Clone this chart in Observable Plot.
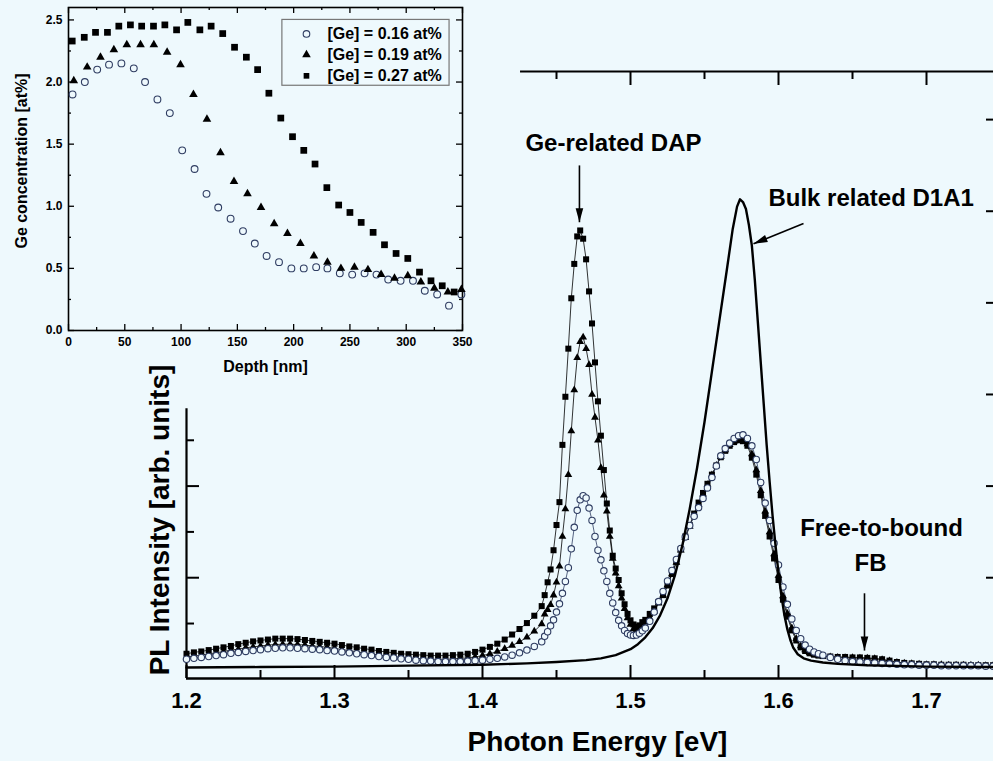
<!DOCTYPE html>
<html><head><meta charset="utf-8">
<script src="https://cdn.jsdelivr.net/npm/d3@7"></script>
<script src="https://cdn.jsdelivr.net/npm/@observablehq/plot@0.6"></script>
<style>
html,body{margin:0;padding:0;background:#eef9fd;overflow:hidden;}
#wrap{position:relative;width:993px;height:761px;overflow:hidden;background:#eef9fd;}
#main{position:absolute;left:0;top:0;width:1001px;}
#inset{position:absolute;left:0;top:0;width:520px;}
svg{max-width:none !important;}
</style></head><body><div id="wrap"><div id="inset"></div><div id="main"></div></div>
<script>
// ---------------- main spectrum data (photon energy in eV, PL intensity in arb. units) ----------------
const energy = [
1.200,1.205,1.210,1.215,1.220,1.225,1.230,1.235,1.240,1.245,
1.250,1.255,1.260,1.265,1.270,1.275,1.280,1.285,1.290,1.295,
1.300,1.305,1.310,1.315,1.320,1.325,1.330,1.335,1.340,1.345,
1.350,1.355,1.360,1.365,1.370,1.375,1.380,1.385,1.390,1.395,
1.400,1.405,1.410,1.415,1.420,1.425,1.430,1.435,1.440,
1.442,1.444,1.446,1.448,1.450,1.452,1.454,1.456,1.458,1.460,
1.462,1.464,1.466,1.468,1.470,1.472,1.474,1.476,1.478,1.480,
1.482,1.484,1.486,1.488,1.490,1.492,1.494,1.496,1.498,1.500,
1.502,1.504,1.506,1.508,1.510,
1.513,1.516,1.519,1.522,1.525,1.528,1.531,1.534,1.537,1.540,
1.543,1.546,1.549,1.552,1.555,1.558,1.561,1.564,1.567,1.570,
1.573,1.576,1.579,1.582,1.585,1.588,1.591,1.594,1.597,1.600,
1.603,1.606,1.609,1.612,1.615,1.618,1.621,1.624,1.627,1.630,
1.635,1.640,1.645,1.650,1.655,1.660,1.665,1.670,1.675,1.680,
1.685,1.690,1.695,1.700,1.705,1.710,1.715,1.720,1.725,1.730,
1.735,1.740,1.745];

// [Ge] = 0.27 at% (squares)
const pl027 = [
0.34,0.37,0.39,0.42,0.45,0.48,0.51,0.55,0.58,0.61,
0.63,0.65,0.67,0.67,0.67,0.66,0.64,0.62,0.60,0.58,
0.56,0.53,0.50,0.48,0.45,0.43,0.40,0.38,0.36,0.34,
0.33,0.32,0.31,0.30,0.30,0.30,0.31,0.32,0.34,0.38,
0.43,0.49,0.56,0.65,0.76,0.88,1.01,1.17,1.38,
1.62,1.90,2.18,2.60,3.15,3.65,4.90,5.95,7.00,8.10,
8.85,9.45,9.58,9.40,8.95,8.25,7.55,6.70,5.85,5.10,
4.35,3.62,3.03,2.48,2.20,1.95,1.66,1.42,1.21,1.07,
0.98,0.93,0.96,1.03,1.08,
1.21,1.33,1.47,1.62,1.83,2.08,2.35,2.62,2.90,3.15,
3.40,3.64,3.85,4.05,4.25,4.45,4.63,4.77,4.88,4.96,
5.00,4.98,4.88,4.62,4.25,3.80,3.35,2.90,2.42,1.95,
1.52,1.15,0.85,0.63,0.48,0.40,0.35,0.32,0.30,0.29,
0.28,0.27,0.27,0.26,0.26,0.25,0.24,0.22,0.19,0.16,
0.14,0.13,0.12,0.11,0.11,0.10,0.10,0.10,0.10,0.09,
0.09,0.09,0.09];

// [Ge] = 0.19 at% (triangles)
const pl019 = [
0.27,0.29,0.31,0.34,0.36,0.39,0.42,0.44,0.47,0.49,
0.51,0.53,0.54,0.55,0.55,0.54,0.53,0.51,0.50,0.48,
0.46,0.43,0.41,0.38,0.36,0.34,0.31,0.29,0.28,0.26,
0.25,0.24,0.23,0.22,0.22,0.22,0.23,0.24,0.25,0.27,
0.30,0.34,0.39,0.45,0.52,0.60,0.70,0.83,0.99,
1.20,1.30,1.41,1.62,1.90,2.25,2.90,3.50,4.25,5.20,
6.10,6.80,7.15,7.25,7.00,6.65,6.00,5.50,5.00,4.40,
3.80,3.45,2.90,2.42,2.10,1.82,1.55,1.32,1.12,0.98,
0.88,0.85,0.88,0.95,1.03,
1.12,1.27,1.44,1.62,1.84,2.08,2.33,2.60,2.87,3.12,
3.37,3.60,3.82,4.03,4.24,4.45,4.64,4.79,4.90,4.98,
5.03,5.01,4.92,4.70,4.35,3.90,3.45,3.00,2.52,2.05,
1.60,1.22,0.90,0.67,0.51,0.42,0.36,0.33,0.31,0.29,
0.27,0.26,0.25,0.25,0.24,0.24,0.23,0.21,0.18,0.15,
0.13,0.12,0.11,0.10,0.10,0.10,0.09,0.09,0.09,0.09,
0.09,0.08,0.08];

// [Ge] = 0.16 at% (open circles)
const pl016 = [
0.22,0.24,0.26,0.28,0.30,0.32,0.35,0.37,0.39,0.41,
0.43,0.45,0.46,0.47,0.47,0.46,0.45,0.44,0.43,0.41,
0.40,0.38,0.36,0.34,0.32,0.30,0.28,0.26,0.25,0.23,
0.22,0.20,0.19,0.18,0.17,0.17,0.17,0.17,0.18,0.19,
0.20,0.22,0.24,0.27,0.31,0.36,0.42,0.50,0.60,
0.72,0.82,0.95,1.08,1.25,1.43,1.66,1.92,2.22,2.63,
3.10,3.47,3.70,3.79,3.74,3.52,3.25,2.90,2.60,2.39,
2.15,1.92,1.66,1.45,1.24,1.07,0.95,0.85,0.78,0.75,
0.74,0.75,0.79,0.84,0.90,
1.05,1.25,1.48,1.70,1.93,2.16,2.40,2.64,2.89,3.14,
3.34,3.53,3.73,3.96,4.19,4.44,4.66,4.82,4.94,5.04,
5.10,5.12,5.04,4.88,4.58,4.08,3.63,3.25,2.75,2.28,
1.80,1.42,1.10,0.85,0.67,0.53,0.44,0.38,0.34,0.31,
0.26,0.22,0.19,0.17,0.16,0.15,0.14,0.13,0.12,0.11,
0.10,0.10,0.09,0.09,0.09,0.08,0.08,0.08,0.08,0.08,
0.08,0.07,0.07];

// bulk reference spectrum (solid line)
const bulkEnergy = [1.200,1.250,1.300,1.350,1.400,1.430,1.450,1.470,1.480,1.490,
1.500,1.505,1.510,1.515,1.520,1.525,1.530,1.535,1.540,1.545,
1.550,1.555,1.560,1.565,1.569,1.572,1.574,1.576,1.578,1.580,
1.582,1.584,1.586,1.588,1.590,1.592,1.594,1.596,1.598,1.600,
1.602,1.604,1.606,1.608,1.610,1.613,1.617,1.622,1.630,1.640,
1.660,1.700,1.750];
const bulkPL = [0.04,0.05,0.06,0.08,0.10,0.13,0.16,0.20,0.24,0.31,
0.44,0.55,0.70,0.90,1.18,1.55,2.05,2.70,3.50,4.40,
5.40,6.50,7.60,8.70,9.60,10.10,10.26,10.20,10.05,9.70,
9.25,8.50,7.60,6.70,5.80,4.90,4.10,3.35,2.70,2.10,
1.60,1.18,0.87,0.64,0.47,0.33,0.24,0.19,0.15,0.12,
0.09,0.06,0.05];

// main axes ticks (only the parts not covered by the inset are drawn)
const xMajor = [1.2,1.3,1.4,1.5,1.6,1.7];
const xMinor = [1.25,1.35,1.45,1.55,1.65];
const xTopMajor = [1.5,1.6,1.7];
const xTopMinor = [1.45,1.55,1.65];
const yLeftMajor = [2,4];
const yLeftMinor = [1,3,5];
const yRightMajor = [2,4,6,8,10,12];
const yRightMinor = [1,3,5,7,9,11];
const leftAxisTop = 5.69;   // where the inset box hides the left axis
const topAxisStart = 1.4257; // where the inset box hides the top axis

// annotations
const noteText = ["Ge-related DAP","Free-to-bound","FB"];
const noteE = [1.4885,1.6696,1.6622];
const notePL = [11.48,3.07,2.31];
const noteText2 = ["Bulk related D1A1"];
const noteE2 = [1.5932];
const notePL2 = [10.28];
const arrowFromE = [1.4655,1.6169,1.6581];
const arrowFromPL = [11.0,9.73,1.66];
const arrowToE = [1.4655,1.5831,1.6581];
const arrowToPL = [9.76,9.29,0.41];
const arrowRotate = [0,68,0];

// ---------------- inset data (depth profile) ----------------
const depth016 = [3.6,14.5,25.5,36,47,58,68,79,90,101,112,122.6,133,144,155,165.5,176,187,198,209,220,230,241,252,263,273.6,284,295,306,316.5,327.5,338,349];
const ge016 = [1.90,2.00,2.10,2.14,2.15,2.11,2.00,1.86,1.75,1.45,1.30,1.10,0.99,0.90,0.80,0.70,0.60,0.55,0.50,0.50,0.51,0.50,0.46,0.45,0.46,0.45,0.41,0.40,0.40,0.32,0.29,0.20,0.29];
const depth019 = [4.7,16.6,28.4,40.3,51.8,64,75.8,87.6,99.5,111,123,135,147,159,171,182.7,194.5,206,218,230,242,254,266,277.7,289.6,301.4,313,325,337,349];
const ge019 = [2.01,2.12,2.20,2.26,2.30,2.30,2.30,2.24,2.14,1.90,1.70,1.43,1.20,1.10,0.99,0.86,0.78,0.70,0.60,0.55,0.50,0.51,0.49,0.45,0.42,0.44,0.39,0.34,0.31,0.33];
const depth027 = [3.3,14,24,34.6,44.7,55,65,75.5,85.6,96,106,116.7,126.7,137,147.5,158,168,178,188.6,199,209,219,229.5,240,250,260,270.6,280.7,291,301.4,311.8,322,332,342.6];
const ge027 = [2.33,2.36,2.40,2.40,2.45,2.46,2.45,2.45,2.46,2.42,2.48,2.42,2.45,2.39,2.28,2.20,2.10,1.91,1.71,1.56,1.45,1.34,1.15,1.01,0.95,0.87,0.79,0.69,0.62,0.58,0.47,0.40,0.36,0.31];
const legendLabels = ["[Ge] = 0.16 at%","[Ge] = 0.19 at%","[Ge] = 0.27 at%"];
const insetXMajor = [0,50,100,150,200,250,300,350];
const insetXMinor = [25,75,125,175,225,275,325];
const insetYMajor = [0,0.5,1.0,1.5,2.0,2.5];
const insetYMinor = [0.25,0.75,1.25,1.75,2.25];

// ---------------- build ----------------
const BG = "#eef9fd";
const FONT = "'Liberation Sans', Arial, Helvetica, sans-serif";
const CIRC = "#2f3d62";

const rows = energy.map((e,i)=>({e, c:pl016[i], t:pl019[i], s:pl027[i]}));
const bulk = bulkEnergy.map((e,i)=>({e, v:bulkPL[i]}));
const notes = noteText.map((t,i)=>({t, e:noteE[i], v:notePL[i]}));
const notes2 = noteText2.map((t,i)=>({t, e:noteE2[i], v:notePL2[i]}));
const arrows = arrowFromE.map((e,i)=>({x1:e, y1:arrowFromPL[i], x2:arrowToE[i], y2:arrowToPL[i], r:arrowRotate[i]}));

const arrowHead = {draw(ctx){ ctx.moveTo(0,0); ctx.lineTo(-3.8,-14); ctx.lineTo(3.8,-14); ctx.closePath(); }};

const W=1001, H=761, mL=186, mR=1, mT=71, mB=83;
const iw = W-mL-mR, ih = H-mT-mB;
const X0 = 1.2, X1 = 1.75, Y0 = -0.2, Y1 = 13.05;

const main = Plot.plot({
  width: W, height: H, marginLeft: mL, marginRight: mR, marginTop: mT, marginBottom: mB,
  style: {background: "transparent", fontFamily: FONT, color: "#000", maxWidth: "none", overflow: "visible"},
  x: {domain: [X0, X1]},
  y: {domain: [Y0, Y1], axis: null},
  marks: [
    Plot.ruleX([X0], {y1: Y0, y2: leftAxisTop, stroke: "#000", strokeWidth: 2.2}),
    Plot.ruleY([Y0], {stroke: "#000", strokeWidth: 2.6}),
    Plot.ruleY([Y1], {x1: topAxisStart, x2: X1, stroke: "#000", strokeWidth: 2.2}),
    Plot.tickX(xMajor, {x: d=>d, insetTop: ih-13, strokeWidth: 2}),
    Plot.tickX(xMinor, {x: d=>d, insetTop: ih-8, strokeWidth: 2}),
    Plot.tickX(xTopMajor, {x: d=>d, insetBottom: ih-14, strokeWidth: 2}),
    Plot.tickX(xTopMinor, {x: d=>d, insetBottom: ih-8, strokeWidth: 2}),
    Plot.tickY(yLeftMajor, {y: d=>d, insetRight: iw-13, strokeWidth: 2}),
    Plot.tickY(yLeftMinor, {y: d=>d, insetRight: iw-8, strokeWidth: 2}),
    Plot.tickY(yRightMajor, {y: d=>d, insetLeft: iw-14, strokeWidth: 2}),
    Plot.tickY(yRightMinor, {y: d=>d, insetLeft: iw-7, strokeWidth: 2}),
    Plot.axisX(xMajor, {anchor: "bottom", tickSize: 0, tickPadding: 14, fontSize: 22, fontWeight: "bold", tickFormat: d3.format(".1f"), label: null}),
    Plot.text(["Photon Energy [eV]"], {frameAnchor: "bottom", dx: 4, dy: 64, fontSize: 28, fontWeight: "bold", textAnchor: "middle", lineAnchor: "middle"}),
    Plot.text(["PL Intensity [arb. units]"], {frameAnchor: "left", dx: -26, dy: 145, rotate: -90, fontSize: 28, fontWeight: "bold", textAnchor: "middle", lineAnchor: "middle"}),
    // spectra
    Plot.line(rows, {x: "e", y: "s", stroke: "#000", strokeWidth: 0.8}),
    Plot.line(rows, {x: "e", y: "t", stroke: "#000", strokeWidth: 0.8}),
    Plot.line(rows, {x: "e", y: "c", stroke: CIRC, strokeWidth: 0.8}),
    Plot.dot(rows, {x: "e", y: "s", symbol: "square", r: 3.4, fill: "#000"}),
    Plot.dot(rows, {x: "e", y: "t", symbol: "triangle", r: 2.9, fill: "#000"}),
    Plot.dot(rows, {x: "e", y: "c", symbol: "circle", r: 3.2, stroke: CIRC, strokeWidth: 1.1, fill: BG}),
    Plot.line(bulk, {x: "e", y: "v", stroke: "#000", strokeWidth: 2.4}),
    // annotations
    Plot.link(arrows, {x1: "x1", y1: "y1", x2: "x2", y2: "y2", stroke: "#000", strokeWidth: 1.6}),
    Plot.dot(arrows, {x: "x2", y: "y2", symbol: arrowHead, rotate: "r", fill: "#000", stroke: "none"}),
    Plot.text(notes, {x: "e", y: "v", text: "t", fontSize: 24, fontWeight: "bold", textAnchor: "middle", lineAnchor: "middle"}),
    Plot.text(notes2, {x: "e", y: "v", text: "t", fontSize: 24, fontWeight: "bold", textAnchor: "start", lineAnchor: "middle"})
  ]
});
document.getElementById("main").appendChild(main);

// ---------------- inset ----------------
const IW=520, IH=408, iL=68, iR=58, iT=7, iB=78;
const iiw = IW-iL-iR, iih = IH-iT-iB;
const in016 = depth016.map((d,i)=>({d, g:ge016[i]}));
const in019 = depth019.map((d,i)=>({d, g:ge019[i]}));
const in027 = depth027.map((d,i)=>({d, g:ge027[i]}));
const legendSymbols = ["circle","triangle","square"];
const legendRows = legendLabels.map((t,i)=>({t, sym: legendSymbols[i], y: [2.387,2.219,2.05][i]}));

const inset = Plot.plot({
  width: IW, height: IH, marginLeft: iL, marginRight: iR, marginTop: iT, marginBottom: iB,
  style: {background: BG, fontFamily: FONT, color: "#000", maxWidth: "none"},
  x: {domain: [0, 350]},
  y: {domain: [0, 2.6]},
  marks: [
    Plot.frame({stroke: "#000", strokeWidth: 1.6}),
    Plot.tickX(insetXMajor, {x: d=>d, insetTop: iih-6, strokeWidth: 1.3}),
    Plot.tickX(insetXMinor, {x: d=>d, insetTop: iih-3, strokeWidth: 1.3}),
    Plot.tickX(insetXMajor, {x: d=>d, insetBottom: iih-6, strokeWidth: 1.3}),
    Plot.tickX(insetXMinor, {x: d=>d, insetBottom: iih-3, strokeWidth: 1.3}),
    Plot.tickY(insetYMajor, {y: d=>d, insetRight: iiw-6, strokeWidth: 1.3}),
    Plot.tickY(insetYMinor, {y: d=>d, insetRight: iiw-3, strokeWidth: 1.3}),
    Plot.tickY(insetYMajor, {y: d=>d, insetLeft: iiw-6, strokeWidth: 1.3}),
    Plot.tickY(insetYMinor, {y: d=>d, insetLeft: iiw-3, strokeWidth: 1.3}),
    Plot.axisX(insetXMajor, {anchor: "bottom", tickSize: 0, tickPadding: 7, fontSize: 12, fontWeight: "bold", label: null}),
    Plot.axisY(insetYMajor, {anchor: "left", tickSize: 0, tickPadding: 6, fontSize: 12, fontWeight: "bold", tickFormat: d3.format(".1f"), label: null}),
    Plot.text(["Depth [nm]"], {frameAnchor: "bottom", dy: 36, fontSize: 16, fontWeight: "bold", textAnchor: "middle", lineAnchor: "middle"}),
    Plot.text(["Ge concentration [at%]"], {frameAnchor: "left", dx: -47, dy: -8, rotate: -90, fontSize: 16, fontWeight: "bold", textAnchor: "middle", lineAnchor: "middle"}),
    // legend
    Plot.rect([{x1: 190, x2: 338.5, y1: 1.97, y2: 2.5}], {x1: "x1", x2: "x2", y1: "y1", y2: "y2", fill: BG, stroke: "#777", strokeWidth: 1.2}),
    Plot.dot(legendRows.filter(d=>d.sym==="circle"), {x: 211.4, y: "y", symbol: "circle", r: 3.3, stroke: CIRC, strokeWidth: 1.1, fill: "none"}),
    Plot.dot(legendRows.filter(d=>d.sym!=="circle"), {x: 211.4, y: "y", symbol: "sym", r: 3.2, fill: "#000"}),
    Plot.text(legendRows, {x: 230, y: "y", text: "t", textAnchor: "start", lineAnchor: "middle", fontSize: 16, fontWeight: "bold"}),
    // data
    Plot.dot(in016, {x: "d", y: "g", symbol: "circle", r: 3.4, stroke: CIRC, strokeWidth: 1.1, fill: "none"}),
    Plot.dot(in019, {x: "d", y: "g", symbol: "triangle", r: 3.2, fill: "#000"}),
    Plot.dot(in027, {x: "d", y: "g", symbol: "square", r: 3.8, fill: "#000"})
  ]
});
document.getElementById("inset").appendChild(inset);
</script></body></html>
